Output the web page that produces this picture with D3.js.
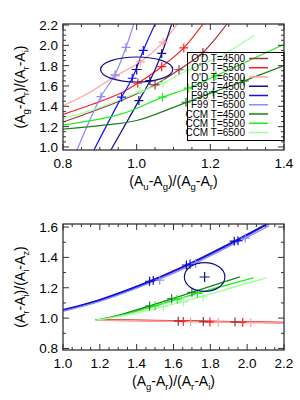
<!DOCTYPE html>
<html>
<head>
<meta charset="utf-8">
<script src="https://cdn.jsdelivr.net/npm/d3@7"></script>
<style>
body { margin: 0; background: #fff; }
svg { font-family: "Liberation Sans", Arial, sans-serif; }
</style>
</head>
<body>
<div id="chart"></div>
<script>
var width = 300;
var height = 400;

// legend names and colours
var names = ["O'D T=4500", "O'D T=5500", "O'D T=6500",
             "F99 T=4500", "F99 T=5500", "F99 T=6500",
             "CCM T=4500", "CCM T=5500", "CCM T=6500"];
var colors = ["#a03232", "#ff2020", "#ffa0a0",
              "#10108a", "#1010ff", "#8c8cff",
              "#1c801c", "#20ee20", "#a0ffa0"];

// top panel: (Au-Ag)/(Ag-Ar) vs (Ag-Ar)/(Ar-Ai)
var topOD4500 = [[0.8,1.245],[0.96,1.46],[1.05,1.61],[1.115,1.76],[1.18,1.93],[1.245,2.21]];
var topOD5500 = [[0.8,1.32],[0.88,1.42],[0.959,1.534],[1.003,1.627],[1.068,1.79],[1.128,1.975],[1.18,2.21]];
var topOD6500 = [[0.8,1.405],[0.87,1.53],[0.943,1.70],[1.01,1.837],[1.072,2.03],[1.11,2.21]];
var topF4500 = [[0.93,0.97],[1.006,1.456],[1.036,1.652],[1.068,1.92],[1.095,2.21]];
var topF5500 = [[0.884,0.97],[0.959,1.49],[0.988,1.676],[1.018,1.95],[1.05,2.21]];
var topF6500 = [[0.838,0.97],[0.903,1.495],[0.941,1.71],[0.971,1.98],[0.992,2.21]];
var topC4500 = [[0.8,1.175],[0.9,1.21],[1.0,1.26],[1.1,1.39],[1.208,1.54],[1.292,1.65],[1.4,1.80]];
var topC5500 = [[0.8,1.215],[0.959,1.325],[1.07,1.49],[1.14,1.578],[1.215,1.70],[1.4,2.01]];
var topC6500 = [[0.8,1.276],[0.9,1.39],[1.009,1.545],[1.072,1.63],[1.14,1.757],[1.22,1.88],[1.32,2.1]];

var topMarks = [
  [[1.05,1.61],[1.115,1.76],[1.18,1.93]],
  [[1.003,1.627],[1.068,1.79],[1.128,1.975]],
  [[0.943,1.70],[1.01,1.837],[1.072,2.03]],
  [[1.006,1.456],[1.036,1.652],[1.068,1.92]],
  [[0.959,1.49],[0.988,1.676],[1.018,1.95]],
  [[0.903,1.495],[0.941,1.71],[0.971,1.98]],
  [[1.134,1.44],[1.208,1.54],[1.292,1.65]],
  [[1.07,1.49],[1.14,1.578],[1.215,1.70]],
  [[1.009,1.545],[1.072,1.63],[1.14,1.757]]
];
var topObs = [1.0, 1.762];
var topErr = [0.098, 0.123];

// bottom panel: (Ag-Ar)/(Ar-Ai) vs (Ar-Ai)/(Ai-Az)
var botOD4500 = [[1.174,0.990],[1.7,0.981],[2.25,0.971]];
var botOD5500 = [[1.174,0.988],[1.7,0.979],[2.25,0.969]];
var botOD6500 = [[1.174,0.986],[1.7,0.977],[2.25,0.967]];
var botF4500 = [[1.0,1.055],[1.2,1.122],[1.48,1.248],[1.68,1.355],[1.93,1.507],[2.12,1.63]];
var botF5500 = [[1.0,1.05],[1.2,1.117],[1.48,1.243],[1.68,1.35],[1.93,1.50],[2.12,1.625]];
var botF6500 = [[1.0,1.045],[1.2,1.11],[1.48,1.235],[1.68,1.34],[1.93,1.49],[2.12,1.61]];
var botC4500 = [[1.174,0.985],[1.32,1.025],[1.47,1.08],[1.65,1.15],[1.96,1.272]];
var botC5500 = [[1.174,0.985],[1.32,1.02],[1.47,1.07],[1.65,1.135],[1.85,1.205],[2.033,1.265]];
var botC6500 = [[1.174,0.985],[1.32,1.015],[1.5,1.063],[1.7,1.125],[1.96,1.215],[2.106,1.265]];

var botMarks = [
  [[1.626,0.98],[1.762,0.977],[1.934,0.974]],
  [[1.653,0.978],[1.798,0.975],[1.976,0.972]],
  [[1.693,0.976],[1.843,0.973],[2.019,0.970]],
  [[1.47,1.243],[1.67,1.35],[1.93,1.507]],
  [[1.49,1.248],[1.69,1.355],[1.95,1.51]],
  [[1.525,1.25],[1.72,1.36],[1.99,1.527]],
  [[1.47,1.08],[1.59,1.127],[1.70,1.17]],
  [[1.50,1.08],[1.62,1.125],[1.73,1.163]],
  [[1.545,1.075],[1.655,1.107],[1.76,1.14]]
];
var botObs = [1.769, 1.271];
var botErr = [0.110, 0.095];

var topTicksX = [0.8, 1.0, 1.2, 1.4];
var topTicksY = [1.0, 1.2, 1.4, 1.6, 1.8, 2.0, 2.2];
var botTicksX = [1.0, 1.2, 1.4, 1.6, 1.8, 2.0, 2.2];
var botTicksY = [0.8, 1.0, 1.2, 1.4, 1.6];

var svg = d3.select('#chart').append('svg')
  .attr('width', width)
  .attr('height', height);

function panel(opt) {
  var x = d3.scaleLinear().domain(opt.xd).range([63, 284]);
  var y = d3.scaleLinear().domain(opt.yd).range([opt.bottom, opt.top]);
  var g = svg.append('g');
  var id = 'clip' + opt.top;

  g.append('clipPath').attr('id', id).append('rect')
    .attr('x', 63).attr('y', opt.top).attr('width', 221).attr('height', opt.bottom - opt.top);

  var plot = g.append('g').attr('clip-path', 'url(#' + id + ')');
  var line = d3.line().x(function(d){ return x(d[0]); }).y(function(d){ return y(d[1]); })
    .curve(d3.curveCatmullRom);

  opt.curves.forEach(function(c, i){
    plot.append('path').attr('d', line(c))
      .attr('fill', 'none').attr('stroke', colors[i]).attr('stroke-width', opt.lw);
  });

  // plus marks
  opt.marks.forEach(function(m, i){
    m.forEach(function(p){
      plot.append('path')
        .attr('d', 'M' + (x(p[0]) - 4.5) + ',' + y(p[1]) + 'h9M' + x(p[0]) + ',' + (y(p[1]) - 4.5) + 'v9')
        .attr('stroke', colors[i]).attr('stroke-width', 1.2);
    });
  });

  // observed point with error ellipse
  var ox = x(opt.obs[0]), oy = y(opt.obs[1]);
  plot.append('ellipse')
    .attr('cx', ox).attr('cy', oy)
    .attr('rx', x(opt.obs[0] + opt.err[0]) - ox)
    .attr('ry', oy - y(opt.obs[1] + opt.err[1]))
    .attr('fill', 'none').attr('stroke', '#10108a').attr('stroke-width', 1.2);
  plot.append('path')
    .attr('d', 'M' + (ox - 5) + ',' + oy + 'h10M' + ox + ',' + (oy - 5) + 'v10')
    .attr('stroke', '#10108a').attr('stroke-width', 1.2);

  // frame and ticks on all sides
  g.append('rect').attr('x', 63).attr('y', opt.top).attr('width', 221).attr('height', opt.bottom - opt.top)
    .attr('fill', 'none').attr('stroke', '#333').attr('stroke-width', 1.3);

  var xMinor = d3.range(opt.xd[0], opt.xd[1] + 1e-9, opt.xm);
  var yMinor = d3.range(Math.ceil(opt.yd[0] / opt.ym) * opt.ym, opt.yd[1], opt.ym);
  var ticks = g.append('g').attr('stroke', '#333').attr('stroke-width', 1);
  function isMajor(v, arr){ return arr.some(function(a){ return Math.abs(a - v) < 1e-6; }); }
  xMinor.forEach(function(v){
    var len = isMajor(v, opt.xt) ? 6 : 3;
    ticks.append('line').attr('x1', x(v)).attr('x2', x(v)).attr('y1', opt.bottom).attr('y2', opt.bottom - len);
    ticks.append('line').attr('x1', x(v)).attr('x2', x(v)).attr('y1', opt.top).attr('y2', opt.top + len);
  });
  yMinor.forEach(function(v){
    var len = isMajor(v, opt.yt) ? 6 : 3;
    ticks.append('line').attr('y1', y(v)).attr('y2', y(v)).attr('x1', 63).attr('x2', 63 + len);
    ticks.append('line').attr('y1', y(v)).attr('y2', y(v)).attr('x1', 284).attr('x2', 284 - len);
  });

  g.selectAll('.xl').data(opt.xt).enter().append('text')
    .attr('x', function(d){ return x(d); }).attr('y', opt.bottom + 18)
    .attr('text-anchor', 'middle').attr('font-size', 13.5).text(function(d){ return d.toFixed(1); });
  g.selectAll('.yl').data(opt.yt).enter().append('text')
    .attr('x', 58).attr('y', function(d){ return y(d) + 5; })
    .attr('text-anchor', 'end').attr('font-size', 13.5).text(function(d){ return d.toFixed(1); });

  label(g.append('text').attr('x', 173.5).attr('y', opt.bottom + 36).attr('text-anchor', 'middle'), opt.xlab);
  label(g.append('text').attr('transform', 'translate(25,' + ((opt.top + opt.bottom) / 2) + ') rotate(-90)')
    .attr('text-anchor', 'middle'), opt.ylab);
}

// "(A_a-A_b)/(A_c-A_d)" with subscripts
function label(t, subs) {
  t.attr('font-size', 14);
  var parts = ['(A', subs[0], '-A', subs[1], ')/(A', subs[2], '-A', subs[3], ')'];
  parts.forEach(function(p, i){
    var s = t.append('tspan').text(p);
    if (i % 2 === 1) s.attr('font-size', 9.5).attr('dy', 4);
    else if (i > 0) s.attr('dy', -4);
  });
}

panel({
  top: 24, bottom: 150, xd: [0.8, 1.4], yd: [0.97, 2.21],
  xt: topTicksX, yt: topTicksY, xm: 0.05, ym: 0.05, lw: 1.2,
  curves: [topOD4500, topOD5500, topOD6500, topF4500, topF5500, topF6500, topC4500, topC5500, topC6500],
  marks: topMarks, obs: topObs, err: topErr,
  xlab: ['u', 'g', 'g', 'r'], ylab: ['g', 'r', 'r', 'i']
});

panel({
  top: 224, bottom: 350, xd: [1.0, 2.2], yd: [0.79, 1.62],
  xt: botTicksX, yt: botTicksY, xm: 0.05, ym: 0.1, lw: 1.4,
  curves: [botOD4500, botOD5500, botOD6500, botF4500, botF5500, botF6500, botC4500, botC5500, botC6500],
  marks: botMarks, obs: botObs, err: botErr,
  xlab: ['g', 'r', 'r', 'i'], ylab: ['r', 'i', 'i', 'z']
});

// legend for the top panel
var legend = svg.append('g');
legend.append('rect').attr('x', 187.5).attr('y', 52.5).attr('width', 96.5).attr('height', 88)
  .attr('fill', 'none').attr('stroke', '#000').attr('stroke-width', 1);
names.forEach(function(n, i){
  var yy = 58.5 + i * 9.25;
  legend.append('text').attr('x', 245).attr('y', yy + 3.5).attr('text-anchor', 'end')
    .attr('font-size', 10).text(n);
  legend.append('line').attr('x1', 249).attr('x2', 268).attr('y1', yy).attr('y2', yy)
    .attr('stroke', colors[i]).attr('stroke-width', 1.5);
});
</script>
</body>
</html>
